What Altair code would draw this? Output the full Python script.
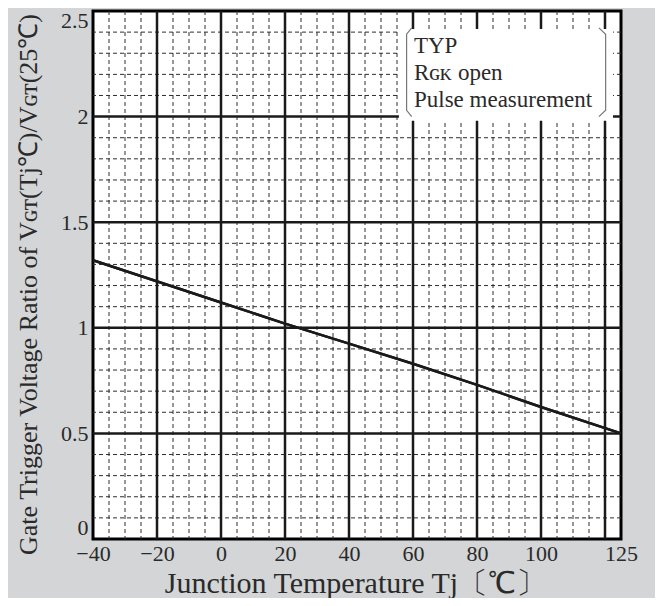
import altair as alt
import pandas as pd

# ---- data ----
temp = [-40, 0, 20, 40, 60, 80, 100, 125]
ratio = [1.32, 1.12, 1.02, 0.925, 0.83, 0.73, 0.625, 0.50]

x_ticks = [-40, -20, 0, 20, 40, 60, 80, 100, 125]
y_ticks = [0, 0.5, 1, 1.5, 2, 2.5]

x_major = [-20, 0, 20, 40, 60, 80, 100, 120]
x_minor = [-35, -30, -25, -15, -10, -5, 5, 10, 15, 25, 30, 35, 45, 50, 55,
           65, 70, 75, 85, 90, 95, 105, 110, 115]
y_major = [0.5, 1.0, 1.5, 2.0]
y_minor = [0.1, 0.2, 0.3, 0.4, 0.6, 0.7, 0.8, 0.9, 1.1, 1.2, 1.3, 1.4,
           1.6, 1.7, 1.8, 1.9, 2.1, 2.2, 2.3, 2.4]

note_lines = ["TYP", "R\u0262\u1d0b open", "Pulse measurement"]

# note box (data coordinates)
box_x = [55.6, 122.5]
box_y = [1.98, 2.415]
bracket_left_x = [59.6, 58.0, 58.0, 59.6]
bracket_right_x = [118.1, 120.2, 120.2, 118.1]
bracket_y = [2.42, 2.39, 2.03, 2.0]

FONT = "Liberation Serif, Times New Roman, serif"
TXT = "#2a2a2a"

xs = alt.Scale(domain=[-40, 125], nice=False, zero=False)
ys = alt.Scale(domain=[0, 2.5], nice=False, zero=False)

curve_df = pd.DataFrame({"t": temp, "r": ratio})

x_axis = alt.Axis(
    values=x_ticks,
    labelExpr="datum.value < 0 ? '\u2212' + abs(datum.value) : '' + datum.value",
    grid=False, domain=False, ticks=False,
    labelFont=FONT, labelFontSize=22, labelColor=TXT, labelPadding=4,
    labelFlush=False,
    title="Junction Temperature  Tj\u3014\u2103\u3015",
    titleFont=FONT, titleFontSize=30, titleFontWeight="normal", titleColor=TXT,
    titleX=262, titleY=44, titleBaseline="middle", titleAlign="center",
)
y_axis = alt.Axis(
    values=y_ticks,
    labelExpr="'' + datum.value",
    grid=False, domain=False, ticks=False,
    labelFont=FONT, labelFontSize=22, labelColor=TXT, labelPadding=5,
    labelFlush=True, labelFlushOffset=0.5,
    title="Gate Trigger Voltage Ratio of  V\u0262\u1d1b(Tj\u2103)/V\u0262\u1d1b(25\u2103)",
    titleFont=FONT, titleFontSize=26, titleFontWeight="normal", titleColor=TXT,
    titleX=-65, titleY=273, titleBaseline="middle", titleAlign="center", titleAngle=-90,
)

curve = alt.Chart(curve_df).mark_line(color="#1a1a1a", strokeWidth=2.5).encode(
    x=alt.X("t:Q", scale=xs, axis=x_axis),
    y=alt.Y("r:Q", scale=ys, axis=y_axis),
)

vminor = alt.Chart(pd.DataFrame({"v": x_minor})).mark_rule(
    color="#2e2e2e", strokeWidth=1, strokeDash=[4, 3]
).encode(x=alt.X("v:Q", scale=xs, axis=x_axis))
hminor = alt.Chart(pd.DataFrame({"v": y_minor})).mark_rule(
    color="#2e2e2e", strokeWidth=1, strokeDash=[4, 3]
).encode(y=alt.Y("v:Q", scale=ys, axis=y_axis))
vmajor = alt.Chart(pd.DataFrame({"v": x_major})).mark_rule(
    color="#1a1a1a", strokeWidth=2.5
).encode(x=alt.X("v:Q", scale=xs, axis=x_axis))
hmajor = alt.Chart(pd.DataFrame({"v": y_major})).mark_rule(
    color="#1a1a1a", strokeWidth=2.5
).encode(y=alt.Y("v:Q", scale=ys, axis=y_axis))

box = alt.Chart(pd.DataFrame({"x1": [box_x[0]], "x2": [box_x[1]],
                              "y1": [box_y[0]], "y2": [box_y[1]]})).mark_rect(
    color="white"
).encode(
    x=alt.X("x1:Q", scale=xs, axis=x_axis), x2="x2:Q",
    y=alt.Y("y1:Q", scale=ys, axis=y_axis), y2="y2:Q",
)

br_df = pd.DataFrame({
    "bx": bracket_left_x + bracket_right_x,
    "by": bracket_y + bracket_y,
    "side": ["l"] * 4 + ["r"] * 4,
    "o": list(range(4)) * 2,
})
brackets = alt.Chart(br_df).mark_line(color="#777777", strokeWidth=1.2).encode(
    x=alt.X("bx:Q", scale=xs, axis=x_axis),
    y=alt.Y("by:Q", scale=ys, axis=y_axis),
    detail="side:N", order="o:Q",
)

note = alt.Chart(pd.DataFrame({"a": [0]})).mark_text(
    text=note_lines, align="left", baseline="top", lineHeight=27,
    font=FONT, fontSize=23, color=TXT,
).encode(x=alt.datum(60.3, scale=xs, axis=x_axis),
         y=alt.datum(2.386, scale=ys, axis=y_axis))

chart = alt.layer(curve, vminor, hminor, vmajor, hmajor, box, brackets, note, curve).properties(
    width=528, height=528,
    padding={"left": 85, "top": 3, "right": 34, "bottom": 59},
    autosize=alt.AutoSizeParams(type="none"),
    background="#d3d5d7",
).configure_view(fill="white", stroke="black", strokeWidth=3)

chart.save("out.html", embed_options={"renderer": "svg", "actions": False})
